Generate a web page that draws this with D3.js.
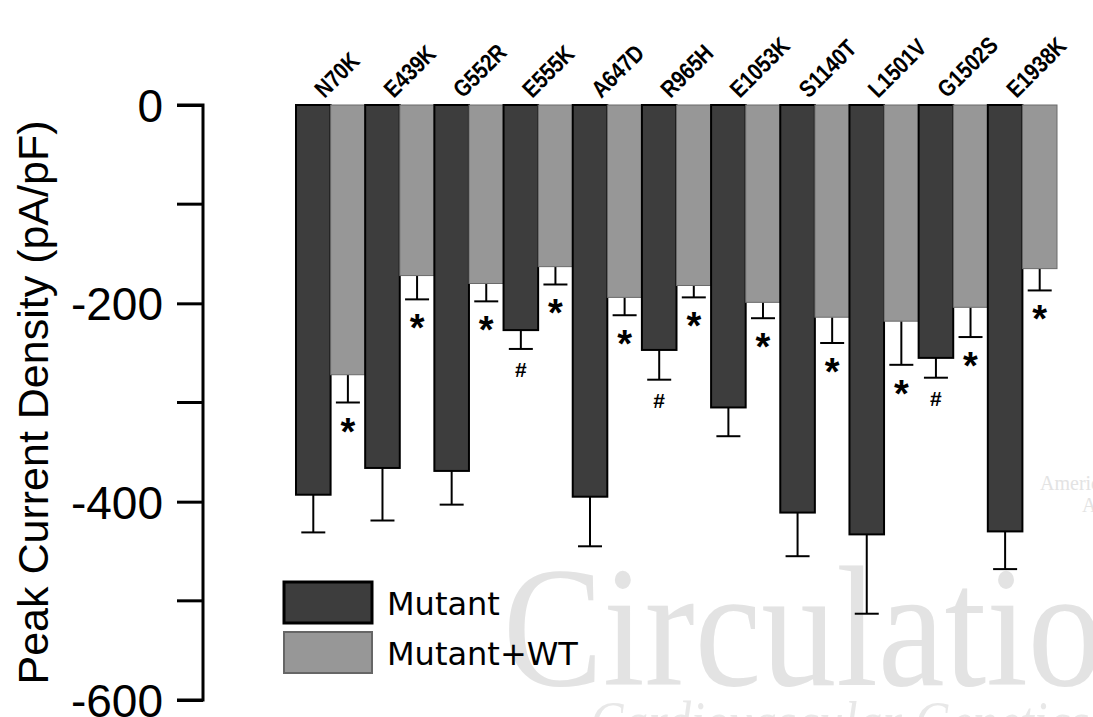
<!DOCTYPE html>
<html>
<head>
<meta charset="utf-8">
<script src="https://cdn.jsdelivr.net/npm/d3@7"></script>
<style>
  body { margin: 0; background: #fff; }
  svg { display: block; }
</style>
</head>
<body>
<script>
// mutant names along the top
var mutants = ["N70K","E439K","G552R","E555K","A647D","R965H","E1053K","S1140T","L1501V","G1502S","E1938K"];
var series = ["Mutant","Mutant+WT"];

// peak current density (pA/pF)
var mutantMean = [-393,-366,-369,-227,-395,-247,-305,-411,-433,-255,-430];
var mutantErr  = [38,53,34,19,50,30,29,44,80,20,38];
var mixMean    = [-272,-172,-180,-163,-194,-182,-199,-214,-218,-204,-165];
var mixErr     = [28,24,18,18,18,12,16,26,44,30,22];

// significance marks: "*" under every Mutant+WT bar, "#" under some Mutant bars
var mixMark    = ["*","*","*","*","*","*","*","*","*","*","*"];
var mutantMark = ["","","","#","","#","","","","#",""];

var yTicks = [0,-200,-400,-600];
var yMinor = [-100,-300,-500];

var W = 1093, H = 717;
var svg = d3.select("body").append("svg").attr("width", W).attr("height", H);

// journal watermark, drawn first so it sits behind everything
// (the scanned figure is stretched vertically, hence the scale)
var wm = svg.append("g").attr("fill", "#e3e3e3")
  .style("font-family", "'Liberation Serif', serif");
wm.append("text").attr("transform", "translate(503,685) scale(1,1.15)")
  .style("font-size", "150px")
  .text("Circulation");
wm.append("text").attr("transform", "translate(590,742) scale(1,1.2)")
  .style("font-size", "50px").style("font-style", "italic").attr("fill", "#e8e8e8")
  .text("Cardiovascular Genetics");
wm.append("text").attr("x", 1040).attr("y", 490)
  .style("font-size", "20px")
  .text("American Heart");
wm.append("text").attr("x", 1082).attr("y", 512)
  .style("font-size", "20px")
  .text("A");

var y = d3.scaleLinear().domain([0, -600]).range([105, 700]);
var x = d3.scaleBand().domain(mutants).range([296, 1057]).paddingInner(0).paddingOuter(0);
var xs = d3.scaleBand().domain(series).range([0, x.bandwidth()]).padding(0);

var rows = mutants.map(function(m, i){
  return [
    {name: m, s: "Mutant", v: mutantMean[i], e: mutantErr[i], mark: mutantMark[i]},
    {name: m, s: "Mutant+WT", v: mixMean[i], e: mixErr[i], mark: mixMark[i]}
  ];
});
var bars = d3.merge(rows);
var fill = {"Mutant": "#3d3d3d", "Mutant+WT": "#979797"};
var edge = {"Mutant": "#000", "Mutant+WT": "#6a6a6a"};

// error bars (downward only) go below the bars
var eb = svg.append("g").attr("stroke", "#000").attr("stroke-width", 2);
bars.forEach(function(d){
  var cx = x(d.name) + xs(d.s) + xs.bandwidth() / 2;
  var y1 = y(d.v), y2 = y(d.v - d.e);
  eb.append("line").attr("x1", cx).attr("x2", cx).attr("y1", y1).attr("y2", y2);
  eb.append("line").attr("x1", cx - 12).attr("x2", cx + 12).attr("y1", y2).attr("y2", y2);
});

svg.append("g").selectAll("rect").data(bars).join("rect")
  .attr("x", function(d){ return x(d.name) + xs(d.s); })
  .attr("y", y(0))
  .attr("width", xs.bandwidth())
  .attr("height", function(d){ return y(d.v) - y(0); })
  .attr("fill", function(d){ return fill[d.s]; })
  .attr("stroke", function(d){ return edge[d.s]; })
  .attr("stroke-width", function(d){ return d.s === "Mutant" ? 2 : 1; });

// significance marks
svg.append("g").selectAll("text").data(bars.filter(function(d){ return d.mark; })).join("text")
  .attr("x", function(d){ return x(d.name) + xs(d.s) + xs.bandwidth() / 2; })
  .attr("y", function(d){ return y(d.v - d.e) + (d.mark === "*" ? 42 : 28); })
  .attr("text-anchor", "middle")
  .style("font-family", "'Liberation Sans', Arial, sans-serif")
  .style("font-weight", "bold")
  .style("font-size", function(d){ return d.mark === "*" ? "38px" : "21px"; })
  .text(function(d){ return d.mark; });

// top category labels, slanted (the source font is tall and narrow)
svg.append("g").selectAll("text").data(mutants).join("text")
  .attr("transform", function(d){
    return "translate(" + (x(d) + x.bandwidth() / 2 - 6) + ",99) rotate(-45) scale(0.84,1)";
  })
  .style("font-family", "'Liberation Sans', Arial, sans-serif")
  .style("font-weight", "bold")
  .style("font-size", "24px")
  .text(function(d){ return d; });

// y axis
var axis = svg.append("g").attr("transform", "translate(203,0)")
  .call(d3.axisLeft(y).tickValues(yTicks).tickSize(26).tickPadding(14).tickFormat(d3.format("d")));
axis.select(".domain").attr("d", "M-26," + y(0) + "H0V" + y(-600) + "H-26").attr("stroke-width", 3);
axis.selectAll(".tick line").attr("stroke-width", 3);
axis.selectAll(".tick text")
  .style("font-family", "'Liberation Sans', Arial, sans-serif")
  .style("font-size", "46px")
  .attr("dy", "0.36em")
  .text(function(d){ return d === 0 ? "0" : "-" + Math.abs(d); });
axis.append("g").selectAll("line").data(yMinor).join("line")
  .attr("x1", -26).attr("x2", 0)
  .attr("y1", function(d){ return y(d); }).attr("y2", function(d){ return y(d); })
  .attr("stroke", "#000").attr("stroke-width", 3);

svg.append("text")
  .attr("transform", "translate(48," + ((y(0) + y(-600)) / 2) + ") rotate(-90)")
  .attr("text-anchor", "middle")
  .style("font-family", "'Liberation Sans', Arial, sans-serif")
  .style("font-size", "43px")
  .text("Peak Current Density (pA/pF)");

// legend
var leg = svg.append("g").attr("transform", "translate(284,582)");
series.forEach(function(s, i){
  leg.append("rect").attr("x", 0).attr("y", i * 50).attr("width", 88).attr("height", 41)
    .attr("fill", fill[s]).attr("stroke", i === 0 ? "#000" : "#666").attr("stroke-width", i === 0 ? 3 : 2);
  leg.append("text").attr("x", 103).attr("y", i * 50 + 33)
    .style("font-family", "'DejaVu Sans', sans-serif")
    .style("font-size", "32px")
    .text(s);
});
</script>
</body>
</html>
